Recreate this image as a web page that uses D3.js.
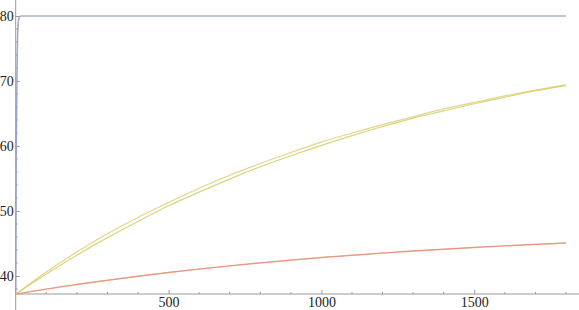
<!DOCTYPE html>
<html>
<head>
<meta charset="utf-8">
<script src="https://cdn.jsdelivr.net/npm/d3@7"></script>
<style>
  body { margin: 0; background: #fff; }
  svg { display: block; }
  svg text { font-family: "Liberation Serif", "Times New Roman", Times, serif !important; }
</style>
</head>
<body>
<svg id="chart" width="579" height="310"></svg>
<script>
// time points
var tFast = [0, 1, 2, 3, 4, 5, 6, 8, 10, 14, 20, 1800];
var blueFast = [37.2, 50, 60, 67, 72, 75.5, 77.5, 79.2, 79.7, 80, 80, 80];
var greyFast = [37.2, 46, 55, 62, 67.5, 71.5, 74.5, 78, 79.3, 79.9, 80, 80];

var tSlow = [0, 100, 200, 300, 400, 500, 600, 700, 800, 900, 1000, 1100, 1200, 1300, 1400, 1500, 1600, 1700, 1800];
var yellowUpper = [37.2, 40.6, 43.7, 46.5, 49.0, 51.3, 53.5, 55.5, 57.3, 59.0, 60.6, 62.0, 63.3, 64.5, 65.7, 66.7, 67.7, 68.6, 69.4];
var yellowLower = [37.2, 40.3, 43.2, 45.9, 48.4, 50.8, 52.9, 54.9, 56.8, 58.5, 60.1, 61.6, 63.0, 64.3, 65.4, 66.5, 67.5, 68.5, 69.3];
var redLine = [37.2, 38.0, 38.7, 39.35, 39.98, 40.55, 41.08, 41.57, 42.03, 42.45, 42.85, 43.2, 43.54, 43.85, 44.14, 44.4, 44.65, 44.88, 45.1];
var orangeLine = [37.2, 37.97, 38.67, 39.33, 39.95, 40.52, 41.05, 41.54, 42.0, 42.42, 42.82, 43.17, 43.51, 43.82, 44.11, 44.37, 44.62, 44.85, 45.07];

var xTicks = [500, 1000, 1500];
var yTicks = [40, 50, 60, 70, 80];

var svg = d3.select("#chart");
var W = 579, H = 310;

var x = d3.scaleLinear().domain([0, 1800]).range([15.7, 566]);
var y = d3.scaleLinear().domain([37.23, 80]).range([294, 16]);

var axisColor = "#999";

// x axis across the whole width
svg.append("line")
  .attr("x1", x(0)).attr("x2", W)
  .attr("y1", y(37.23)).attr("y2", y(37.23))
  .attr("stroke", axisColor).attr("stroke-width", 1);

// y axis full height
svg.append("line")
  .attr("x1", x(0)).attr("x2", x(0))
  .attr("y1", 0).attr("y2", H)
  .attr("stroke", axisColor).attr("stroke-width", 1);

// minor ticks
var xMinor = d3.range(100, 1801, 100).filter(function(d) { return d % 500 != 0; });
svg.selectAll(".xminor").data(xMinor).enter().append("line")
  .attr("x1", function(d) { return x(d); }).attr("x2", function(d) { return x(d); })
  .attr("y1", y(37.23)).attr("y2", y(37.23) - 2)
  .attr("stroke", axisColor);
var yMinor = d3.range(38, 81, 2).filter(function(d) { return d % 10 != 0; });
svg.selectAll(".yminor").data(yMinor).enter().append("line")
  .attr("x1", x(0)).attr("x2", x(0) + 2)
  .attr("y1", function(d) { return y(d); }).attr("y2", function(d) { return y(d); })
  .attr("stroke", axisColor);

// major ticks and labels
var xAxis = d3.axisBottom(x).tickValues(xTicks).tickFormat(d3.format("d")).tickSize(-4).tickPadding(3);
var gx = svg.append("g").attr("transform", "translate(0," + y(37.23) + ")").call(xAxis)
  .attr("font-size", 14);
gx.select(".domain").remove();
gx.selectAll("line").attr("stroke", axisColor);
gx.selectAll("text").attr("fill", "#222");

var yAxis = d3.axisLeft(y).tickValues(yTicks).tickSize(-4).tickPadding(2);
var gy = svg.append("g").attr("transform", "translate(" + x(0) + ",0)").call(yAxis)
  .attr("font-size", 14);
gy.select(".domain").remove();
gy.selectAll("line").attr("stroke", axisColor);
gy.selectAll("text").attr("fill", "#222");

var line = d3.line().curve(d3.curveMonotoneX)
  .x(function(d) { return x(d[0]); })
  .y(function(d) { return y(d[1]); });

function draw(ts, vals, color) {
  svg.append("path")
    .attr("d", line(d3.zip(ts, vals)))
    .attr("fill", "none")
    .attr("stroke", color)
    .attr("stroke-width", 1.2)
    .attr("opacity", 0.8);
}

draw(tSlow, orangeLine, "#e8b07a");
draw(tSlow, redLine, "#e58a7c");
draw(tSlow, yellowLower, "#c9cc62");
draw(tSlow, yellowUpper, "#e2c865");
draw(tFast, greyFast, "#b4b4bc");
draw(tFast, blueFast, "#8e9cce");
</script>
</body>
</html>
